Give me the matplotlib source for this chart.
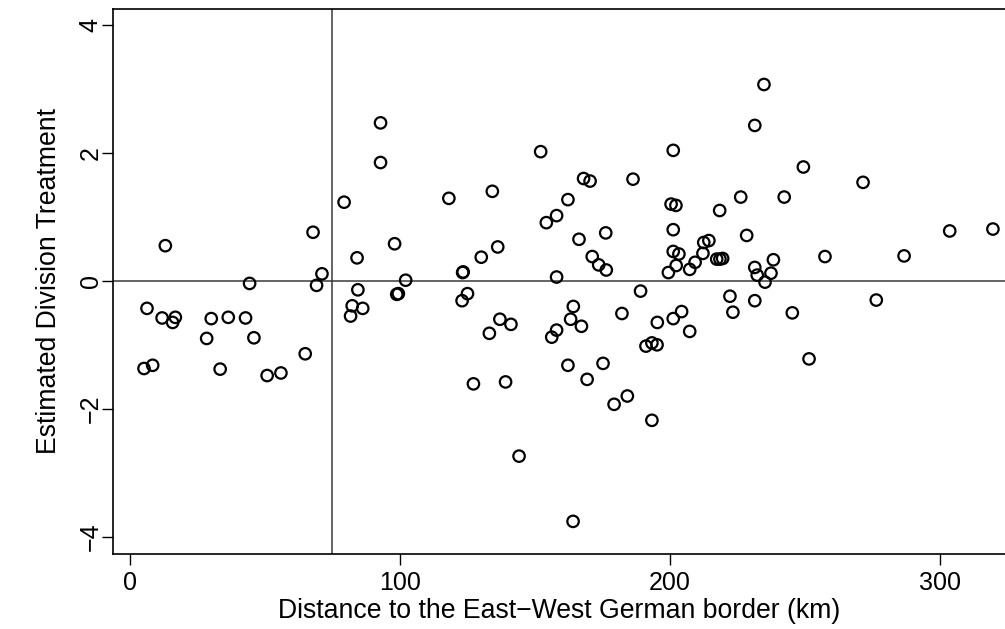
import matplotlib
matplotlib.use("Agg")
import matplotlib.pyplot as plt

plt.rcParams['font.family'] = ['Liberation Sans', 'DejaVu Sans']

distance_km = [
    13.1, 67.8, 44.3, 71.1, 69.1, 6.3, 11.9, 16.8, 15.8, 30.1,
    36.4, 42.8, 28.4, 45.9, 64.9, 5.2, 8.4, 33.4, 50.8, 55.9,
    92.8, 92.8, 79.3, 152.1, 118.1, 134.2, 154.2, 158.0, 98.0, 84.1,
    130.1, 136.2, 123.2, 123.4, 102.1, 158.0, 84.4, 99.4, 98.8, 125.0,
    82.3, 86.2, 81.7, 123.0, 137.0, 141.1, 133.1, 156.2, 158.0, 127.2,
    139.1, 144.1, 201.2, 231.4, 168.0, 170.4, 186.3, 162.2, 200.4, 202.2,
    218.4, 226.2, 201.2, 166.3, 176.2, 228.4, 171.2, 173.6, 176.4, 201.2,
    203.3, 202.3, 199.4, 207.3, 209.3, 212.2, 212.5, 214.4, 217.3, 218.5,
    219.5, 231.4, 232.3, 235.2, 189.1, 222.2, 231.4, 223.3, 164.2, 163.2,
    167.2, 182.2, 195.3, 201.2, 204.3, 207.3, 191.1, 193.3, 195.2, 162.2,
    175.2, 169.3, 184.2, 179.3, 193.3, 164.1, 234.8, 249.4, 242.3, 271.5,
    238.3, 237.4, 257.4, 286.7, 303.6, 319.6, 276.4, 245.3, 251.5,
]
treatment = [
    0.55, 0.76, -0.04, 0.11, -0.07, -0.43, -0.58, -0.57, -0.65, -0.59,
    -0.57, -0.58, -0.90, -0.89, -1.14, -1.37, -1.32, -1.38, -1.48, -1.44,
    2.47, 1.85, 1.23, 2.02, 1.29, 1.40, 0.91, 1.02, 0.58, 0.36,
    0.37, 0.53, 0.13, 0.14, 0.01, 0.06, -0.14, -0.20, -0.21, -0.20,
    -0.39, -0.43, -0.55, -0.31, -0.60, -0.68, -0.82, -0.88, -0.77, -1.61,
    -1.58, -2.74, 2.04, 2.43, 1.60, 1.56, 1.59, 1.27, 1.20, 1.18,
    1.10, 1.31, 0.80, 0.65, 0.75, 0.71, 0.38, 0.25, 0.17, 0.46,
    0.42, 0.24, 0.13, 0.18, 0.29, 0.43, 0.60, 0.63, 0.34, 0.34,
    0.35, 0.21, 0.09, -0.02, -0.16, -0.24, -0.31, -0.49, -0.40, -0.60,
    -0.71, -0.51, -0.65, -0.59, -0.48, -0.79, -1.02, -0.97, -1.00, -1.32,
    -1.29, -1.54, -1.80, -1.93, -2.18, -3.76, 3.07, 1.78, 1.31, 1.54,
    0.33, 0.12, 0.38, 0.39, 0.78, 0.81, -0.30, -0.50, -1.22,
]
x_ticks = [0, 100, 200, 300]
y_ticks = [-4, -2, 0, 2, 4]
border_cutoff = 75

W, H = 1005, 629
fig = plt.figure(figsize=(W / 100, H / 100), dpi=100)
left, right, top, bottom = 112.7, 1006, 9, 554
ax = fig.add_axes([left / W, (H - bottom) / H, (right - left) / W, (bottom - top) / H])

ax.scatter(distance_km, treatment, s=68, facecolors='none', edgecolors='black',
           linewidths=1.6, zorder=3)
ax.axhline(0, color='#3a3a3a', lw=1.1, zorder=2)
ax.axvline(border_cutoff, color='#3a3a3a', lw=1.1, zorder=2)

ax.set_xlim(-6.4, (right - 130) / 2.70)
ax.set_ylim(-4.27, 4.25)
ax.set_xticks(x_ticks)
ax.set_yticks(y_ticks)
ax.set_yticklabels([str(v).replace('-', '\u2212') for v in y_ticks], rotation=90, va='center')
ax.tick_params(direction='out', length=7.7, width=1, labelsize=18, colors='black')
ax.tick_params(axis='x', pad=4.6)
ax.tick_params(axis='y', pad=-0.5)
for s in ['left', 'bottom', 'top']:
    ax.spines[s].set_linewidth(1.2)
ax.spines['right'].set_visible(False)

ax.set_xlabel('Distance to the East\u2212West German border (km)', fontsize=19.2, labelpad=2)
ax.set_ylabel('Estimated Division Treatment', fontsize=19.2, labelpad=12)

fig.savefig('out.png', dpi=100)
